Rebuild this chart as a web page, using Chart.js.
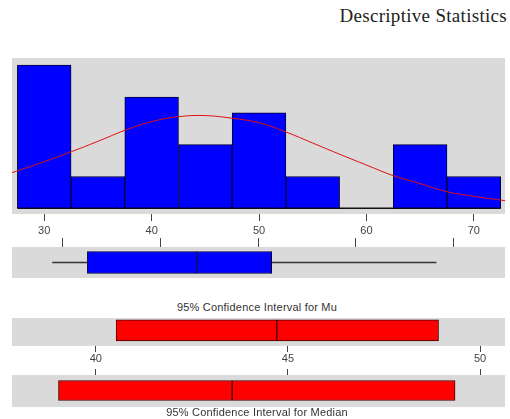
<!DOCTYPE html>
<html lang="en">
<head>
<meta charset="UTF-8">
<title>Descriptive Statistics</title>
<script src="https://cdn.jsdelivr.net/npm/chart.js"></script>
<style>
    body { margin: 0; background: #fff; width: 510px; height: 419px; position: relative; overflow: hidden; font-family: "Liberation Sans", Arial, sans-serif; }
    .panel { position: absolute; left: 12px; }
    .titulo { position: absolute; right: 3px; top: 5px; font-family: "Liberation Serif", "Times New Roman", serif; font-size: 19px; letter-spacing: 0.3px; color: #222; }
    .rotulo { position: absolute; left: 2px; width: 510px; text-align: center; font-size: 11px; line-height: 12px; letter-spacing: 0.2px; color: #333; }
</style>
</head>
<body>
    <div class="titulo">Descriptive Statistics</div>

    <canvas id="chartHist" class="panel" width="493" height="180" style="top:58px"></canvas>
    <canvas id="chartCaja" class="panel" width="493" height="41" style="top:237px"></canvas>

    <div class="rotulo" style="top:301px">95% Confidence Interval for Mu</div>
    <canvas id="chartMedia" class="panel" width="493" height="48" style="top:318px"></canvas>
    <canvas id="chartMediana" class="panel" width="493" height="38" style="top:369px"></canvas>
    <div class="rotulo" style="top:406px">95% Confidence Interval for Median</div>

<script>
// Histograma (centro de clase, frecuencia)
const centrosClase = [30, 35, 40, 45, 50, 55, 60, 65, 70];
const frecuencias = [9, 2, 7, 4, 6, 2, 0, 4, 2];
const anchoClase = 5;

// Curva normal ajustada
const curvaX = [27, 30, 32.5, 35, 37.5, 40, 42.5, 45, 47.5, 50, 52.5, 55, 57.5, 60, 62.5, 65, 67.5, 70, 72.9];
const curvaY = [2.24, 2.93, 3.55, 4.21, 4.9, 5.45, 5.76, 5.83, 5.66, 5.38, 4.8, 4.1, 3.4, 2.72, 2.05, 1.55, 1.04, 0.75, 0.48];

// Boxplot: min, Q1, mediana, Q3, max
const resumenCaja = [28.9, 32.5, 43.7, 51.4, 68.3];

// Intervalos de confianza 95%: inferior, centro, superior
const icMedia = [40.53, 44.71, 48.92];
const icMediana = [39.03, 43.55, 49.35];

// Marcas de los ejes
const ticksHist = [30, 40, 50, 60, 70];
const ticksCaja = [30, 40, 50, 60, 70];
const ticksIC = [40, 45, 50];

Chart.defaults.font.family = '"Liberation Sans", Arial, sans-serif';
Chart.defaults.font.size = 11;
Chart.defaults.color = '#444';

const fondoGris = {
    id: 'fondoGris',
    beforeDraw(chart) {
        const { ctx, chartArea: a } = chart;
        ctx.save();
        ctx.fillStyle = '#DADADA';
        ctx.fillRect(a.left, a.top, a.width, a.height);
        ctx.restore();
    }
};

// linea base bajo las barras (solo se ve en la clase vacia)
const lineaBase = {
    id: 'lineaBase',
    beforeDatasetsDraw(chart) {
        const { ctx, scales } = chart;
        const y = scales.y.getPixelForValue(0);
        const x0 = scales.x.getPixelForValue(centrosClase[0] - anchoClase / 2);
        const x1 = scales.x.getPixelForValue(centrosClase[centrosClase.length - 1] + anchoClase / 2);
        ctx.save();
        ctx.strokeStyle = '#111';
        ctx.lineWidth = 1.5;
        ctx.beginPath();
        ctx.moveTo(x0, y);
        ctx.lineTo(x1, y);
        ctx.stroke();
        ctx.restore();
    }
};

function ejeX(min, max, marcas, alto, opciones) {
    return Object.assign({
        type: 'linear',
        min: min,
        max: max,
        offset: false,
        border: { display: false },
        grid: { offset: false, drawOnChartArea: false, drawTicks: true, tickLength: 7, color: '#444', lineWidth: 1 },
        ticks: { padding: 3, color: '#444', autoSkip: false, maxRotation: 0 },
        afterBuildTicks: s => { s.ticks = marcas.map(v => ({ value: v })); },
        afterFit: s => { s.height = alto; }
    }, opciones || {});
}

const ejeYOculto = (min, max) => ({ type: 'linear', display: false, min: min, max: max, offset: false });

const comunes = {
    responsive: false,
    animation: false,
    devicePixelRatio: 1,
    layout: { padding: 0 },
    plugins: { legend: { display: false }, tooltip: { enabled: false } }
};

// 1. Histograma con curva normal
new Chart(document.getElementById('chartHist'), {
    type: 'bar',
    data: {
        datasets: [{
            type: 'line',
            data: curvaX.map((x, i) => ({ x: x, y: curvaY[i] })),
            borderColor: '#E01010',
            borderWidth: 1,
            pointRadius: 0,
            tension: 0.4,
            order: 0
        }, {
            data: centrosClase.map((x, i) => ({ x: x, y: frecuencias[i] })),
            backgroundColor: '#0000FF',
            borderColor: '#000033',
            borderWidth: 1,
            borderSkipped: false,
            barPercentage: 1,
            categoryPercentage: 1,
            order: 1
        }]
    },
    options: Object.assign({}, comunes, {
        scales: {
            x: ejeX(27, 72.9, ticksHist, 24),
            y: ejeYOculto(-0.36, 9.45)
        }
    }),
    plugins: [fondoGris, lineaBase]
});

// 2. Boxplot
const estiloCaja = { grouped: false, barThickness: 22, backgroundColor: '#0000FF', borderColor: '#000033', borderWidth: 1, borderSkipped: false, order: 1 };

new Chart(document.getElementById('chartCaja'), {
    type: 'bar',
    data: {
        datasets: [{
            type: 'line',
            data: [{ x: resumenCaja[0], y: 0 }, { x: resumenCaja[4], y: 0 }],
            borderColor: '#333',
            borderWidth: 1.3,
            pointRadius: 0,
            order: 2
        },
        Object.assign({ data: [{ x: [resumenCaja[1], resumenCaja[2]], y: 0 }] }, estiloCaja),
        Object.assign({ data: [{ x: [resumenCaja[2], resumenCaja[3]], y: 0 }] }, estiloCaja)]
    },
    options: Object.assign({}, comunes, {
        indexAxis: 'y',
        scales: {
            x: ejeX(24.77, 75.33, ticksCaja, 10, {
                position: 'top',
                grid: { offset: false, drawOnChartArea: false, drawTicks: true, tickLength: 9, color: '#444' },
                ticks: { display: false }
            }),
            y: ejeYOculto(-1, 1)
        }
    }),
    plugins: [fondoGris]
});

// 3 y 4. Intervalos de confianza
function graficoIC(id, ic, altoEje, opcEje, yMin, grosor) {
    const estilo = { grouped: false, barThickness: grosor, backgroundColor: '#FF0000', borderColor: '#400000', borderWidth: 1, borderSkipped: false };
    return new Chart(document.getElementById(id), {
        type: 'bar',
        data: {
            datasets: [
                Object.assign({ data: [{ x: [ic[0], ic[1]], y: 0 }] }, estilo),
                Object.assign({ data: [{ x: [ic[1], ic[2]], y: 0 }] }, estilo)
            ]
        },
        options: Object.assign({}, comunes, {
            indexAxis: 'y',
            scales: {
                x: ejeX(37.82, 50.65, ticksIC, altoEje, opcEje),
                y: ejeYOculto(yMin, 1)
            }
        }),
        plugins: [fondoGris]
    });
}

graficoIC('chartMedia', icMedia, 20, {
    grid: { offset: false, drawOnChartArea: false, drawTicks: true, tickLength: 6, color: '#444' },
    ticks: { padding: 0, color: '#444', autoSkip: false, maxRotation: 0 }
}, -1.27, 21);

graficoIC('chartMediana', icMediana, 6, {
    position: 'top',
    grid: { offset: false, drawOnChartArea: false, drawTicks: true, tickLength: 6, color: '#444' },
    ticks: { display: false }
}, -1.06, 20);
</script>
</body>
</html>
